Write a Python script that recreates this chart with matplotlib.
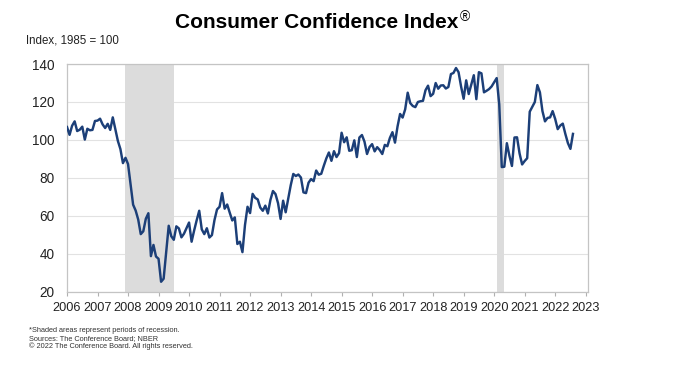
"""Consumer Confidence Index, monthly 2006 - Aug 2022."""

import numpy as np
import matplotlib
matplotlib.use("Agg")
import matplotlib.pyplot as plt

plt.rcParams["font.family"] = ["Liberation Sans", "DejaVu Sans"]

# ── Data (monthly index values, 1985 = 100) ─────────────────
cci_2006 = [106.8, 102.7, 107.5, 109.8, 104.7, 105.4, 107.0, 100.2, 105.9, 105.1, 105.3, 110.0]
cci_2007 = [110.2, 111.2, 108.2, 106.3, 108.5, 105.3, 111.9, 105.6, 99.5, 95.2, 87.8, 90.6]
cci_2008 = [87.3, 76.4, 65.9, 62.8, 58.1, 50.4, 51.9, 58.5, 61.4, 38.8, 44.7, 38.6]
cci_2009 = [37.4, 25.3, 26.9, 40.8, 54.8, 49.3, 47.4, 54.5, 53.4, 48.7, 50.6, 53.6]
cci_2010 = [56.5, 46.4, 52.3, 57.7, 62.7, 52.9, 50.4, 53.5, 48.6, 49.9, 57.8, 63.4]
cci_2011 = [64.8, 72.0, 63.8, 66.0, 61.7, 57.6, 59.2, 45.2, 46.4, 40.9, 55.2, 64.8]
cci_2012 = [61.5, 71.6, 69.5, 68.7, 64.4, 62.7, 65.4, 61.3, 68.4, 73.1, 71.5, 66.7]
cci_2013 = [58.4, 68.0, 61.9, 69.0, 76.2, 82.1, 81.0, 81.8, 80.2, 72.4, 72.0, 77.5]
cci_2014 = [79.4, 78.3, 83.9, 81.7, 82.2, 86.4, 90.3, 93.4, 89.0, 94.1, 91.0, 93.1]
cci_2015 = [103.8, 98.8, 101.4, 94.3, 94.6, 99.8, 91.0, 101.3, 102.6, 99.1, 92.6, 96.3]
cci_2016 = [97.8, 94.0, 96.2, 94.7, 92.6, 97.4, 96.7, 101.1, 104.1, 98.6, 107.1, 113.7]
cci_2017 = [111.8, 116.1, 124.9, 119.4, 117.9, 117.3, 120.0, 120.4, 120.6, 126.2, 128.6, 123.1]
cci_2018 = [124.3, 130.0, 127.0, 128.7, 128.8, 127.1, 127.9, 134.7, 135.3, 137.9, 135.7, 128.1]
cci_2019 = [121.7, 131.4, 124.2, 129.2, 134.1, 121.5, 135.7, 135.1, 125.1, 125.9, 126.8, 128.2]
cci_2020 = [130.4, 132.6, 118.8, 85.7, 85.9, 98.3, 91.7, 86.3, 101.3, 101.4, 92.9, 87.1]
cci_2021 = [88.9, 90.4, 114.9, 117.5, 120.0, 128.9, 125.1, 115.2, 109.8, 111.6, 111.9, 115.2]
cci_2022 = [111.1, 105.7, 107.6, 108.6, 103.2, 98.4, 95.3, 103.2]

recessions = [(2007 + 11 / 12, 2009.5), (2020 + 1 / 12, 2020 + 4 / 12)]
years = list(range(2006, 2024))
y_ticks = [20, 40, 60, 80, 100, 120, 140]

values = np.array(cci_2006 + cci_2007 + cci_2008 + cci_2009 + cci_2010 + cci_2011
                  + cci_2012 + cci_2013 + cci_2014 + cci_2015 + cci_2016 + cci_2017
                  + cci_2018 + cci_2019 + cci_2020 + cci_2021 + cci_2022)
dates = 2006 + np.arange(len(values)) / 12

# ── Figure ─────────────────────────────────────────────────
fig = plt.figure(figsize=(6.79, 3.68), dpi=100)
fig.patch.set_facecolor("white")
ax = fig.add_axes([0.0987, 0.207, 0.767, 0.619])

for start, end in recessions:
    ax.axvspan(start, end, color="#dcdcdc", lw=0, zorder=1)

ax.plot(dates, values, color="#1c3f78", lw=1.75, zorder=3,
        solid_joinstyle="round")

ax.set_xlim(2006, 2023.07)
ax.set_ylim(20, 140)
ax.set_xticks(years)
ax.set_xticklabels([str(y) for y in years], fontsize=9.2, color="#222222")
ax.set_yticks(y_ticks)
ax.set_yticklabels([str(v) for v in y_ticks], fontsize=9.8, color="#222222")
ax.tick_params(axis="y", length=0, pad=9)
ax.tick_params(axis="x", length=3, width=0.8, color="#b0b0b0", pad=4)
ax.grid(axis="y", color="#e2e2e2", lw=0.8, zorder=0)
ax.set_axisbelow(True)
for s in ax.spines.values():
    s.set_color("#c4c4c4")
    s.set_linewidth(0.9)

# ── Text ───────────────────────────────────────────────────
title = fig.text(0.467, 0.94, "Consumer Confidence Index", ha="center", va="center",
                 fontsize=15, fontweight="bold", color="black")
fig.canvas.draw()
bb = title.get_window_extent().transformed(fig.transFigure.inverted())
fig.text(bb.x1 + 0.001, 0.955, "\u00ae", ha="left", va="center",
         fontsize=10, color="black")

fig.text(0.038, 0.89, "Index, 1985 = 100", ha="left", va="center",
         fontsize=8.3, color="#222222")

notes = ["*Shaded areas represent periods of recession.",
         "Sources: The Conference Board; NBER",
         "\u00a9 2022 The Conference Board. All rights reserved."]
for i, line in enumerate(notes):
    fig.text(0.043, 0.102 - i * 0.0217, line, ha="left", va="center",
             fontsize=5.3, color="#333333")

fig.savefig("out.png", dpi=100, facecolor=fig.get_facecolor())
